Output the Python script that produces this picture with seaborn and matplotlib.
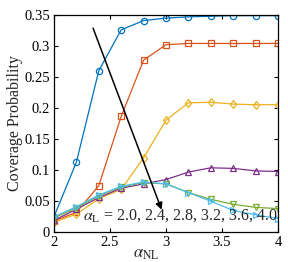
import pandas as pd
import seaborn as sns
import matplotlib
matplotlib.use("Agg")
import matplotlib.pyplot as plt
from matplotlib.ticker import FuncFormatter

alpha_nl = [2.0, 2.2, 2.4, 2.6, 2.8, 3.0, 3.2, 3.4, 3.6, 3.8, 4.0]

cov_20 = [0.024, 0.112, 0.260, 0.326, 0.341, 0.345, 0.347, 0.348, 0.349, 0.349, 0.349]
cov_24 = [0.017, 0.031, 0.074, 0.186, 0.277, 0.302, 0.304, 0.304, 0.304, 0.304, 0.304]
cov_28 = [0.015, 0.028, 0.053, 0.068, 0.119, 0.180, 0.208, 0.209, 0.206, 0.205, 0.205]
cov_32 = [0.018, 0.036, 0.055, 0.070, 0.077, 0.084, 0.096, 0.103, 0.102, 0.098, 0.097]
cov_36 = [0.022, 0.038, 0.058, 0.072, 0.079, 0.077, 0.063, 0.052, 0.044, 0.039, 0.037]
cov_40 = [0.024, 0.040, 0.059, 0.073, 0.080, 0.077, 0.063, 0.049, 0.034, 0.027, 0.021]

series = [cov_20, cov_24, cov_28, cov_32, cov_36, cov_40]
colors = ['#0072BD', '#D95319', '#EDB120', '#7E2F8E', '#77AC30', '#4DBEEE']
markers = ['o', 's', 'd', '^', 'v', '>']

sns.set_style("ticks")
plt.rcParams['font.family'] = ['Liberation Serif', 'DejaVu Serif']
plt.rcParams['mathtext.fontset'] = 'stix'

fig = plt.figure(figsize=(2.88, 2.62), dpi=100)
ax = fig.add_axes([0.1875, 0.1164, 0.7775, 0.8263])

for vals, c, m in zip(series, colors, markers):
    df = pd.DataFrame({"x": alpha_nl, "y": vals})
    sns.lineplot(x="x", y="y", data=df, ax=ax, color=c, marker=m, markersize=4.5,
                 markerfacecolor='none', markeredgecolor=c, markeredgewidth=0.9, lw=0.9)

ax.annotate('', xy=(2.97, 0.031), xytext=(2.34, 0.333),
            arrowprops=dict(arrowstyle='-|>', color='black', lw=1.1, mutation_scale=10))
ax.text(2.26, 0.0185, r'$\alpha_{\mathrm{L}}$ = 2.0, 2.4, 2.8, 3.2, 3.6, 4.0', fontsize=11.5)

ax.set_xlim(2, 4)
ax.set_ylim(0, 0.35)
ax.set_xticks([2, 2.5, 3, 3.5, 4])
ax.set_yticks([0, 0.05, 0.1, 0.15, 0.2, 0.25, 0.3, 0.35])
ax.xaxis.set_major_formatter(FuncFormatter(lambda v, p: '%g' % v))
ax.yaxis.set_major_formatter(FuncFormatter(lambda v, p: '%g' % v))
ax.tick_params(direction='in', top=True, right=True, length=3, width=0.8,
               labelsize=10.5, pad=3, colors='black')
for s in ax.spines.values():
    s.set_linewidth(0.9)
    s.set_color('black')

ax.set_xlabel(r'$\alpha_{\mathrm{NL}}$', fontsize=12)
ax.xaxis.set_label_coords(0.41, -0.068)
ax.set_ylabel('Coverage Probability', fontsize=11.5, labelpad=1)
ax.grid(False)

fig.savefig("out.png", dpi=100)
